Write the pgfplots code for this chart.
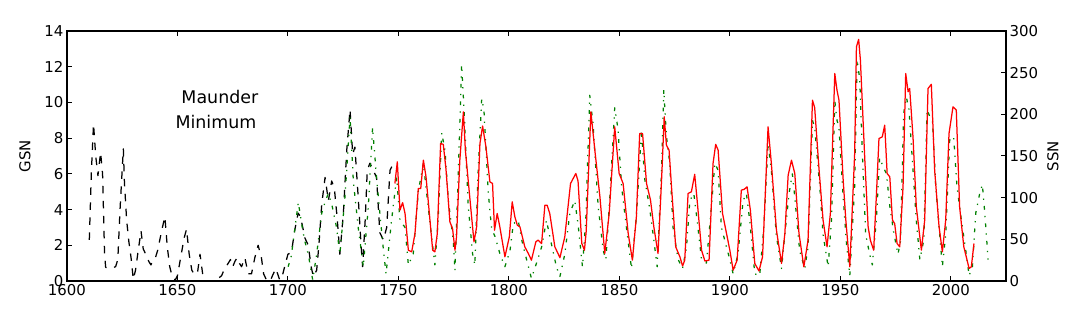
\documentclass[border=0pt]{standalone}
\usepackage{fontspec}
\setmainfont{DejaVu Sans}
\usepackage{pgfplots}
\pgfplotsset{compat=1.18}
\definecolor{mplgreen}{rgb}{0,0.5,0}

\begin{document}
\begin{tikzpicture}
\pgfplotsset{
  every axis/.append style={
    scale only axis, width=939bp, height=250bp,
    xmin=1600, xmax=2025, no markers,
    tick align=inside, major tick length=5bp,
    every tick/.style={black, line width=1bp},
    axis line style={line width=1.25bp},
    tick label style={font=\fontsize{15}{18}\selectfont},
    label style={font=\fontsize{15}{18}\selectfont},
    /pgf/number format/assume math mode=true,
    /pgf/number format/1000 sep={},
  }
}
% left axis: group sunspot numbers
\begin{axis}[name=ax, ymin=0, ymax=14, ytick={0,2,...,14},
  xtick={1600,1650,...,2000}, ytick pos=left, xtick pos=both,
  ylabel={GSN}, ylabel style={at={(axis description cs:-0.0447,0.5)}, anchor=center}]
\addplot[black, line width=1.25bp, dash pattern=on 7.5bp off 7.5bp, line join=round] coordinates {
(1610.1,2.3)(1611,6.0)(1612,8.8)(1613,7.0)(1614,5.9)(1615.2,7.2)(1616.1,6.0)(1617,1.5)
(1617.5,0.76)(1621,0.76)(1622,0.8)(1623,1.2)(1624,4.0)(1625.5,7.4)(1626,5.5)(1627,3.4)
(1628,2.2)(1629,1.3)(1630,0.1)(1631,0.6)(1632,1.5)(1633.5,2.8)(1634.5,1.8)(1636,1.4)
(1637,1.1)(1638,0.9)(1639,1.2)(1640,1.3)(1641,1.7)(1642,2.3)(1643,2.9)(1644.3,3.6)
(1645.4,1.9)(1646.5,0.8)(1647.5,0.3)(1649,0.05)(1650,0.3)(1651,1.0)(1652,1.7)(1653,2.4)
(1654.1,2.9)(1655.3,1.5)(1656.5,0.6)(1657.5,0.4)(1659,0.4)(1660.2,1.5)(1661.4,0.4)(1662.4,0)
(1666,0)(1667.5,0.1)(1669,0.2)(1670,0.3)(1671,0.6)(1672,0.8)(1673,1.0)(1674,1.2)
(1675,0.8)(1676,1.1)(1677,1.3)(1678,1.0)(1679,0.8)(1680.5,1.3)(1682,0.4)(1683.5,0.4)
(1685,1.3)(1686.5,2.0)(1688,1.3)(1689,0.4)(1690.3,0.05)(1692,0)(1693,0.3)(1694.5,0.7)
(1696.3,0.05)(1697.5,0.3)(1698.5,0.8)(1700,1.5)(1701.6,1.6)(1703,2.8)(1704.6,3.8)(1705.7,3.6)
(1707.7,2.4)(1709.2,2.0)(1710.5,0.8)(1711.5,0.25)(1713,0.6)(1714,2.0)(1715.3,4.3)(1716.8,5.8)
(1718.3,4.5)(1719.8,5.6)(1721,5.2)(1722.3,3.5)(1723.5,1.5)(1725.1,3.8)(1726.6,7.3)(1728.1,9.6)
(1729.3,7.1)(1730.3,7.5)(1731.8,4.7)(1733,2.2)(1733.8,0.8)(1735,3.5)(1735.9,6.2)(1737.1,6.6)
(1738.6,6.2)(1740.1,5.8)(1741.6,2.7)(1743.2,2.3)(1744.7,3.0)(1746.2,6.2)(1747,6.4)
};
\addplot[mplgreen, line width=1.25bp, dash pattern=on 3.75bp off 6.25bp on 1.25bp off 6.25bp, line join=round] coordinates {
(1700.1,0.8)(1701.5,1.4)(1703,2.8)(1704.7,4.4)(1706.2,3.2)(1707.5,2.3)(1709.2,1.5)(1711.2,0.06)
(1713,1.5)(1715.3,3.8)(1717,4.5)(1718.3,4.9)(1720,4.2)(1722,3.0)(1723.5,1.5)(1725.8,4.7)
(1727,7.0)(1728.1,9.2)(1729.6,5.6)(1731.8,3.0)(1734.1,0.8)(1736.4,4.2)(1738.3,8.6)(1740.1,5.8)
(1741.6,3.8)(1743,2.0)(1744.4,0.4)(1746.9,3.4)(1749.2,5.8)(1750.7,3.4)(1753.0,3.0)(1754.5,0.9)
(1756.7,1.5)(1759.0,5.0)(1761.3,6.6)(1762.8,4.9)(1765.0,2.5)(1766.5,0.9)(1768,3.5)(1769.6,8.3)
(1771.1,7.3)(1772.6,4.5)(1774.8,2.3)(1775.6,0.6)(1777.1,6.0)(1778.6,12.1)(1779.8,9.4)(1781.6,4.2)
(1783.6,1.5)(1784.6,0.9)(1786.1,6.2)(1787.7,10.2)(1788.7,9.6)(1790.7,4.9)(1792.2,2.9)(1793.7,2.5)
(1796.0,1.5)(1798.2,0.8)(1800.5,1.7)(1802.0,3.2)(1804.2,3.4)(1806,2.2)(1808,1.2)(1810.2,0.15)
(1812.5,1.0)(1814.8,1.9)(1817.0,3.4)(1818.5,2.5)(1821.5,0.8)(1823.1,0.25)(1825.3,1.5)(1827.6,3.8)
(1829.8,4.5)(1831.3,3.2)(1833.3,0.8)(1834.8,3.4)(1836.6,10.4)(1838.1,8.8)(1840.4,4.2)(1842.7,1.7)
(1843.9,1.2)(1845.7,4.7)(1847.9,9.7)(1849.4,8.5)(1851.0,5.3)(1853.2,3.0)(1855.5,0.7)(1857.7,3.6)
(1860.0,8.4)(1861.5,5.7)(1863.8,4.0)(1865.6,2.3)(1867.1,0.8)(1869.1,6.2)(1870.1,10.7)(1871.3,8.1)
(1872.8,6.6)(1874.3,3.0)(1876.6,1.2)(1878.6,0.7)(1880.4,1.9)(1881.9,4.5)(1883.7,4.9)(1885.2,3.4)
(1887.2,1.2)(1889.4,1.0)(1891.7,4.2)(1893.2,6.6)(1894.7,6.2)(1896.2,3.0)(1898.5,1.9)(1900.0,1.2)
(1901.5,0.4)(1903.7,1.5)(1906.0,4.5)(1907.5,4.9)(1909.0,3.4)(1911.3,0.4)(1913.5,0.3)(1915.4,3.0)
(1917.3,7.7)(1918.8,6.2)(1921.1,2.5)(1923.4,0.7)(1924.9,2.6)(1926.8,4.9)(1928.3,6.0)(1929.4,4.7)
(1931.6,1.7)(1933.9,0.7)(1935.4,1.9)(1937.4,9.0)(1938.4,8.6)(1940.7,5.3)(1942.2,2.6)(1944.5,0.8)
(1946.0,3.4)(1947.5,10.1)(1948.5,9.0)(1949.4,8.6)(1951.3,4.7)(1952.8,2.1)(1954.3,0.3)(1956.5,5.3)
(1957.6,12.4)(1958.8,11.3)(1960.0,7.1)(1961.5,2.6)(1963.3,1.5)(1964.5,0.9)(1966.3,3.4)(1967.8,6.9)
(1969.4,6.4)(1970.9,6.0)(1972.4,4.2)(1974.2,2.7)(1976.1,1.5)(1977.2,2.2)(1978.7,9.4)(1979.9,10.3)
(1981.1,9.6)(1982.6,6.8)(1984.4,3.4)(1986.0,1.2)(1987.8,2.3)(1989.3,9.6)(1990.5,9.2)(1991.7,9.0)
(1993.2,5.3)(1995.0,2.6)(1996.2,0.8)(1997.7,2.6)(1999.5,7.9)(2001.3,8.1)(2002.8,5.3)(2004.8,3.4)
(2006.8,1.7)(2008.3,0.3)(2009.8,0.8)(2011.3,3.8)(2013.1,4.9)(2014.3,5.4)(2015.4,3.8)(2016.9,1.2)
};
\node[font=\fontsize{17.5}{21}\selectfont] at (axis cs:1669.2,10.3) {Maunder};
\node[font=\fontsize{17.5}{21}\selectfont] at (axis cs:1667.4,8.9) {Minimum};
\end{axis}
% right axis: sunspot numbers
\begin{axis}[ymin=0, ymax=300, ytick={0,50,...,300},
  axis y line*=right, axis x line=none,
  ylabel={SSN}, ylabel style={at={(axis description cs:1.0501,0.5)}, anchor=center}]
\addplot[red, line width=1.25bp, line join=round] coordinates {
(1748.4,117)(1749.5,143)(1750.7,85)(1751.9,94)(1753.0,81)(1754.5,37)(1756.0,35)(1757.5,57)
(1759.0,111)(1760.1,111)(1761.3,145)(1762.5,125)(1764.0,81)(1765.5,37)(1766.5,35)(1767.6,57)
(1769.1,165)(1770.3,164)(1771.5,135)(1773.3,71)(1774.5,63)(1775.6,37)(1776.3,53)(1777.8,145)
(1779.4,203)(1780.3,157)(1782.7,89)(1784.2,47)(1785.4,65)(1786.9,165)(1788.1,186)(1789.6,161)
(1791.4,119)(1792.6,117)(1793.5,61)(1794.7,81)(1795.9,65)(1798.2,29)(1800.2,53)(1801.5,95)
(1802.7,77)(1803.8,67)(1805,65)(1807.2,41)(1808.8,33)(1810.2,25)(1812.2,47)(1813.2,49)
(1814.8,45)(1816.3,91)(1817.3,91)(1818.5,81)(1820.8,41)(1823.1,28)(1825.3,53)(1827.9,117)
(1830.3,129)(1831.3,120)(1833.0,45)(1834.2,37)(1835,60)(1837.1,203)(1838.9,157)(1841.2,101)
(1843.4,33)(1845.4,81)(1847.9,185)(1849.9,129)(1851.7,117)(1854.0,57)(1855.9,25)(1857.7,77)
(1859.2,177)(1860.5,177)(1862.3,117)(1864.1,97)(1865.6,65)(1867.5,33)(1869.1,121)(1870.3,197)
(1871.3,163)(1872.5,157)(1873.6,113)(1875.5,41)(1877.4,29)(1878.6,18)(1879.6,25)(1881.1,105)
(1882.6,107)(1884.1,128)(1885.2,97)(1887.2,37)(1888.7,24)(1890.6,25)(1892.4,141)(1893.6,164)
(1894.7,157)(1896.7,81)(1898.5,57)(1900.0,37)(1901.5,13)(1903.3,25)(1905.2,109)(1906.5,110)
(1907.8,113)(1909.3,85)(1911.3,21)(1913.2,12)(1914.8,29)(1915.8,89)(1917.3,185)(1918.8,141)
(1921.1,61)(1923.4,21)(1924.9,57)(1926.4,127)(1927.9,145)(1929.4,129)(1931.3,57)(1933.5,17)
(1935.4,49)(1937.4,217)(1938.4,208)(1940.4,133)(1942.2,73)(1944.0,41)(1945.5,81)(1947.5,249)
(1948.5,229)(1949.4,217)(1951.3,121)(1952.5,73)(1954.3,17)(1956.5,153)(1957.3,281)(1958.3,290)
(1959.1,265)(1961.1,145)(1962.6,65)(1963.6,49)(1965.1,37)(1966.3,101)(1967.5,171)(1969.0,173)
(1970.1,187)(1971.2,129)(1972.4,125)(1973.6,73)(1974.6,69)(1975.7,45)(1976.9,41)(1978.4,113)
(1979.6,249)(1980.7,227)(1981.4,231)(1982.9,173)(1984.4,89)(1986.7,37)(1988.2,73)(1989.7,231)
(1991.2,236)(1992.7,133)(1994.7,65)(1996.2,35)(1997.7,73)(1999.2,177)(2001.0,209)(2002.5,205)
(2004.0,89)(2005.9,41)(2008.3,15)(2009.3,17)(2010.5,45)
};
\end{axis}
\path (ax.south west) ++(-67bp,-31bp) coordinate (bl);
\path (ax.north east) ++(69bp,31bp) coordinate (tr);
\path (bl) rectangle (tr);
\end{tikzpicture}
\end{document}
